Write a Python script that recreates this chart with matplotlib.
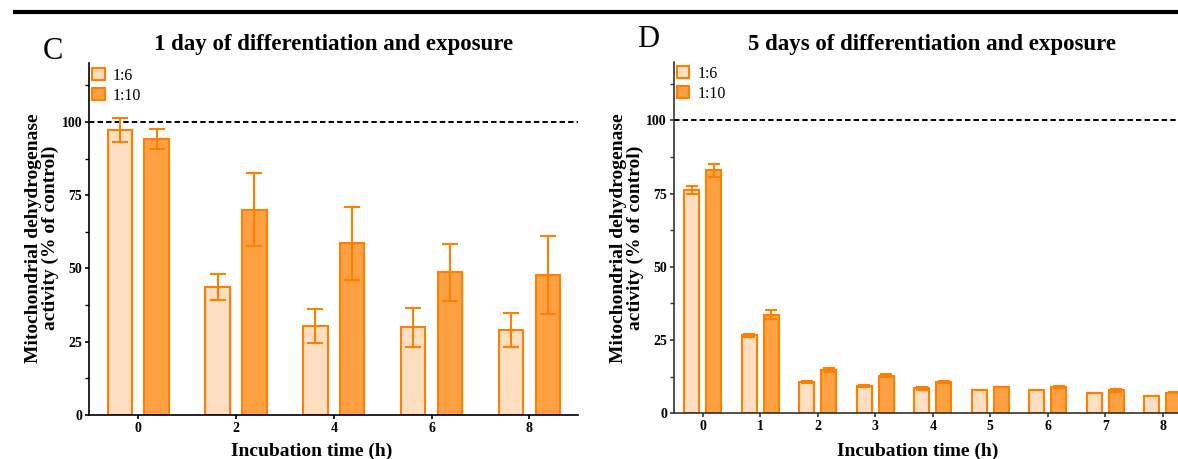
import numpy as np
import matplotlib
matplotlib.use("Agg")
import matplotlib.pyplot as plt
from matplotlib.patches import Patch

plt.rcParams['font.family'] = ['Liberation Serif', 'DejaVu Serif']

# panel C: 1 day of differentiation
hours_c = [0, 2, 4, 6, 8]
c_16 = [97.3, 43.6, 30.3, 29.9, 29.0]
c_16_err = [4.2, 4.4, 5.9, 6.6, 5.7]
c_110 = [94.3, 70.1, 58.6, 48.7, 47.7]
c_110_err = [3.4, 12.3, 12.5, 9.7, 13.3]

# panel D: 5 days of differentiation
hours_d = [0, 1, 2, 3, 4, 5, 6, 7, 8]
d_16 = [76.1, 26.6, 10.6, 9.4, 8.5, 7.9, 7.9, 6.9, 5.9]
d_16_err = [1.4, 0.5, 0.4, 0.3, 0.5, 0.1, 0.1, 0.1, 0.1]
d_110 = [83.0, 33.7, 14.7, 12.9, 10.7, 9.0, 8.9, 7.8, 7.0]
d_110_err = [2.2, 1.5, 0.7, 0.4, 0.4, 0.1, 0.4, 0.4, 0.1]

labels = ['1:6', '1:10']
fill_16 = '#FFDFC2'
fill_110 = '#FFA142'
edge = '#FF8000'

W, H = 1178, 459
fig = plt.figure(figsize=(W / 100, H / 100), dpi=100)


def draw_panel(ax, hours, v1, e1, v2, e2, offset, width, capsize, xlim, spine_col):
    x = np.array(hours, dtype=float)
    ax.bar(x - offset, v1, width, color=fill_16, edgecolor=edge, linewidth=1.5, zorder=2)
    ax.bar(x + offset, v2, width, color=fill_110, edgecolor=edge, linewidth=1.5, zorder=2)
    ax.errorbar(x - offset, v1, yerr=e1, fmt='none', ecolor=edge, elinewidth=1.5,
                capsize=capsize, capthick=1.5, zorder=3)
    ax.errorbar(x + offset, v2, yerr=e2, fmt='none', ecolor=edge, elinewidth=1.5,
                capsize=capsize, capthick=1.5, zorder=3)
    ax.axhline(100, color='black', lw=1.4, ls=(0, (2.8, 1.6)), zorder=1)
    ax.set_xlim(*xlim)
    ax.set_ylim(0, 120)
    ax.set_xticks(hours)
    ax.set_yticks([0, 25, 50, 75, 100])
    ax.set_yticks([12.5, 37.5, 62.5, 87.5, 112.5], minor=True)
    for s in ['top', 'right']:
        ax.spines[s].set_visible(False)
    for s in ['left', 'bottom']:
        ax.spines[s].set_linewidth(1.2)
        ax.spines[s].set_color(spine_col)
    ax.tick_params(axis='both', which='major', length=3, width=1.2, pad=2,
                   labelsize=10, color=spine_col)
    ax.tick_params(axis='y', which='minor', length=3, width=1.0, color=spine_col)
    for t in ax.get_xticklabels() + ax.get_yticklabels():
        t.set_fontweight('bold')
    handles = [Patch(facecolor=fill_16, edgecolor=edge, linewidth=1.5),
               Patch(facecolor=fill_110, edgecolor=edge, linewidth=1.5)]
    ax.legend(handles, labels, loc='upper left', bbox_to_anchor=(0.005, 0.988),
              frameon=False, fontsize=11.5, handlelength=0.8, handleheight=0.8,
              handletextpad=0.5, labelspacing=0.25, borderpad=0, borderaxespad=0)


# left panel (C)
ax_c = fig.add_axes([89.3 / W, 1 - 415 / H, 489 / W, (415 - 63.3) / H])
draw_panel(ax_c, hours_c, c_16, c_16_err, c_110, c_110_err,
           0.375, 0.5, 6, (-1, 9), 'black')

# right panel (D), runs past the right edge of the figure
ax_d = fig.add_axes([674 / W, 1 - 413.3 / H, 9 * 57.5 / W, (413.3 - 61.7) / H])
draw_panel(ax_d, hours_d, d_16, d_16_err, d_110, d_110_err,
           0.19, 0.26, 4, (-0.5, 8.5), '#333333')

ylab = 'Mitochondrial dehydrogenase\nactivity (% of control)'
fig.text(42 / W, 1 - 238 / H, ylab, rotation=90, ha='center', va='center',
         multialignment='center', fontsize=14, fontweight='bold', linespacing=1.05)
fig.text(627 / W, 1 - 238 / H, ylab, rotation=90, ha='center', va='center',
         multialignment='center', fontsize=14, fontweight='bold', linespacing=1.05)

fig.text(311.5 / W, 1 - 456 / H, 'Incubation time (h)', ha='center', va='baseline',
         fontsize=14, fontweight='bold')
fig.text(918 / W, 1 - 456 / H, 'Incubation time (h)', ha='center', va='baseline',
         fontsize=14, fontweight='bold')

fig.text(333.5 / W, 1 - 50 / H, '1 day of differentiation and exposure',
         ha='center', va='baseline', fontsize=16.5, fontweight='bold')
fig.text(932.5 / W, 1 - 50 / H, '5 days of differentiation and exposure',
         ha='center', va='baseline', fontsize=16.5, fontweight='bold')

fig.text(43 / W, 1 - 59 / H, 'C', ha='left', va='baseline', fontsize=22)
fig.text(637 / W, 1 - 47 / H, 'D', ha='left', va='baseline', fontsize=22)

# heavy rule across the top
fig.add_artist(plt.Line2D([15 / W, 1], [1 - 12 / H, 1 - 12 / H],
                          transform=fig.transFigure, color='black', lw=3))

fig.savefig('out.png', dpi=100)
